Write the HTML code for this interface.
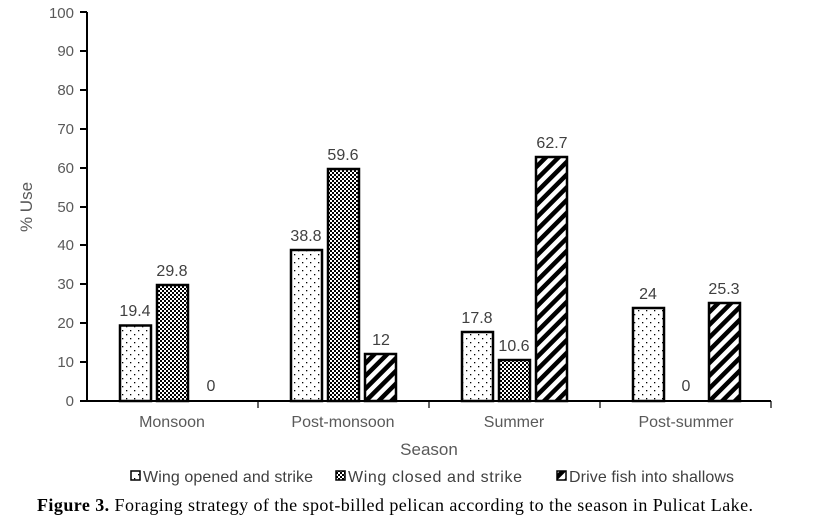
<!DOCTYPE html><html><head><style>body{margin:0;background:#fff}svg{display:block}</style></head><body>
<svg width="825" height="522" xmlns="http://www.w3.org/2000/svg" font-family="Liberation Sans, sans-serif">
<defs>
<pattern id="dots" width="8" height="8" patternUnits="userSpaceOnUse"><rect width="8" height="8" fill="#fff"/><rect x="2" y="2" width="1.3" height="1.3" fill="#000"/><rect x="6" y="6" width="1.3" height="1.3" fill="#000"/></pattern>
<pattern id="check" width="4" height="4" patternUnits="userSpaceOnUse"><rect width="4" height="4" fill="#fff"/><rect width="2" height="2" fill="#000"/><rect x="2" y="2" width="2" height="2" fill="#000"/></pattern>
<pattern id="diag" width="9" height="9" patternUnits="userSpaceOnUse" patternTransform="rotate(45)"><rect width="9" height="9" fill="#fff"/><rect width="4.5" height="9" fill="#000"/></pattern>
</defs>
<g fill="#595959" font-size="15" text-anchor="end">
<text x="74" y="406">0</text><text x="74" y="367">10</text><text x="74" y="328">20</text><text x="74" y="289">30</text><text x="74" y="250">40</text><text x="74" y="212">50</text><text x="74" y="173">60</text><text x="74" y="134">70</text><text x="74" y="95">80</text><text x="74" y="56">90</text><text x="74" y="18">100</text>
</g>
<g stroke="#000" stroke-width="2"><line x1="87" y1="12" x2="87" y2="401"/><line x1="80" y1="401" x2="771" y2="401"/>
<path d="M80 12H87M80 51H87M80 90H87M80 129H87M80 168H87M80 207H87M80 245H87M80 284H87M80 323H87M80 362H87"/></g>
<path d="M258 401V408M429 401V408M600 401V408M771 401V408" stroke="#000" stroke-width="1.2"/>
<g stroke="#000" stroke-width="2.5">
<rect x="120" y="325.5" width="31" height="75.5" fill="url(#dots)"/>
<rect x="157" y="285" width="31" height="116" fill="url(#check)"/>
<rect x="291" y="250" width="31" height="151" fill="url(#dots)"/>
<rect x="328" y="169" width="31" height="232" fill="url(#check)"/>
<rect x="365" y="354" width="31" height="47" fill="url(#diag)"/>
<rect x="462" y="332" width="31" height="69" fill="url(#dots)"/>
<rect x="499" y="360" width="31" height="41" fill="url(#check)"/>
<rect x="536" y="157" width="31" height="244" fill="url(#diag)"/>
<rect x="633" y="308" width="31" height="93" fill="url(#dots)"/>
<rect x="709" y="303" width="31" height="98" fill="url(#diag)"/>
</g>
<g fill="#404040" font-size="16" text-anchor="middle">
<text x="135" y="316">19.4</text><text x="172" y="276">29.8</text><text x="211" y="391">0</text>
<text x="306" y="241">38.8</text><text x="343" y="160">59.6</text><text x="381" y="345">12</text>
<text x="477" y="323">17.8</text><text x="514" y="351">10.6</text><text x="552" y="148">62.7</text>
<text x="648" y="299">24</text><text x="686" y="391">0</text><text x="724" y="294">25.3</text>
</g>
<g fill="#595959" font-size="16" text-anchor="middle">
<text x="172" y="427">Monsoon</text><text x="343" y="427">Post-monsoon</text><text x="514" y="427">Summer</text><text x="686" y="427">Post-summer</text>
<text x="429" y="455" font-size="17">Season</text>
<text transform="translate(32 207) rotate(-90)" font-size="17">% Use</text>
</g>
<g stroke="#000" stroke-width="1.5"><rect x="131" y="471" width="9" height="9" fill="url(#dots)"/><rect x="336" y="471" width="9" height="9" fill="url(#check)"/><rect x="557" y="471" width="9" height="9" fill="url(#diag)"/></g>
<g fill="#404040" font-size="16"><text x="143" y="482" textLength="170">Wing opened and strike</text><text x="348" y="482" textLength="174">Wing closed and strike</text><text x="569" y="482" textLength="165">Drive fish into shallows</text></g>
<text x="37" y="511" font-family="Liberation Serif, serif" font-size="18" fill="#000" textLength="716"><tspan font-weight="bold">Figure 3.</tspan> Foraging strategy of the spot-billed pelican according to the season in Pulicat Lake.</text>
</svg></body></html>
